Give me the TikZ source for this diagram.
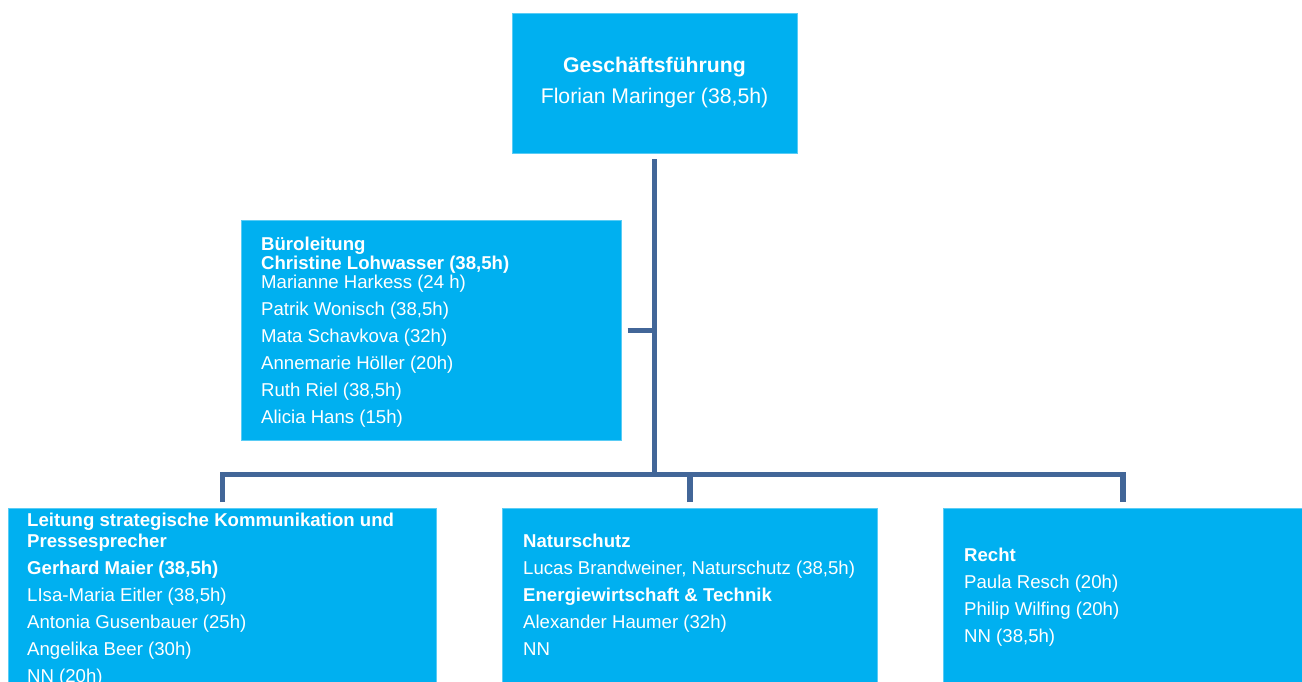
\documentclass[tikz,border=0pt]{standalone}
\usepackage{fontspec}
\setmainfont{Liberation Sans}
\usetikzlibrary{positioning}
\definecolor{boxblau}{RGB}{0,176,240}
\definecolor{linienblau}{RGB}{66,102,152}
\tikzset{
    %Define style for boxes
    abtbox/.style={
           rectangle,
           fill=boxblau,
           draw=boxblau!65!white, line width=0.6pt,
           inner sep=0pt,
           text=white},
    %Define style for the text blocks
    abttext/.style={
           anchor=north west,
           inner sep=0pt,
           align=left,
           text=white,
           font=\fontsize{18.6}{27}\selectfont},
    % Define line style
    linie/.style={
           draw=linienblau,
           line width=5.5pt,
           shorten <=6pt}
}

\begin{document}
\begin{tikzpicture}[x=1pt,y=-1pt]
\useasboundingbox (0,0) rectangle (1302,681);
\clip (0,0) rectangle (1302,681);

 %boxes
\node[abtbox, minimum width=285pt, minimum height=140pt, align=center,
      font=\fontsize{21.2}{31}\selectfont] (1) at (654.5,83)
      {\textbf{Geschäftsführung}\\Florian Maringer (38,5h)};
\node[abtbox, anchor=north west, minimum width=380pt, minimum height=220pt] (2) at (241,220) {};
\node[abtbox, anchor=north west, minimum width=428pt, minimum height=200pt] (3) at (8,508) {};
\node[abtbox, anchor=north west, minimum width=375pt, minimum height=200pt] (4) at (502,508) {};
\node[abtbox, anchor=north west, minimum width=359pt, minimum height=200pt] (5) at (943,508) {};

 %texts
\node[abttext] (2t) at (261,236.5) {\textbf{Büroleitung}\\[-7.5pt]
    \textbf{Christine Lohwasser (38,5h)}\\[-8.5pt]
    Marianne Harkess (24 h)\\
    Patrik Wonisch (38,5h)\\
    Mata Schavkova (32h)\\
    Annemarie Höller (20h)\\
    Ruth Riel (38,5h)\\
    Alicia Hans (15h)};
\node[abttext] (3t) at (27,513.3) {\textbf{Leitung strategische Kommunikation und}\\[-6.4pt]
    \textbf{Pressesprecher}\\
    \textbf{Gerhard Maier (38,5h)}\\
    LIsa-Maria Eitler (38,5h)\\
    Antonia Gusenbauer (25h)\\
    Angelika Beer (30h)\\
    NN (20h)};
\node[abttext] (4t) at (523,534.3) {\textbf{Naturschutz}\\
    Lucas Brandweiner, Naturschutz (38,5h)\\
    \textbf{Energiewirtschaft \& Technik}\\
    Alexander Haumer (32h)\\
    NN};
\node[abttext] (5t) at (964,547.6) {\textbf{Recht}\\
    Paula Resch (20h)\\
    Philip Wilfing (20h)\\
    NN (38,5h)};

 %lines
\coordinate (knoten) at (654.5,474.5);
\draw[linie] (1) -- (knoten);
\draw[linie] (2.east) -- (2.east -| knoten);
\draw[linie, shorten >=6pt] (3.north) |- (knoten) -| (5.north);
\draw[linie] (4.north) -- (4.north |- knoten);
\end{tikzpicture}
\end{document}
